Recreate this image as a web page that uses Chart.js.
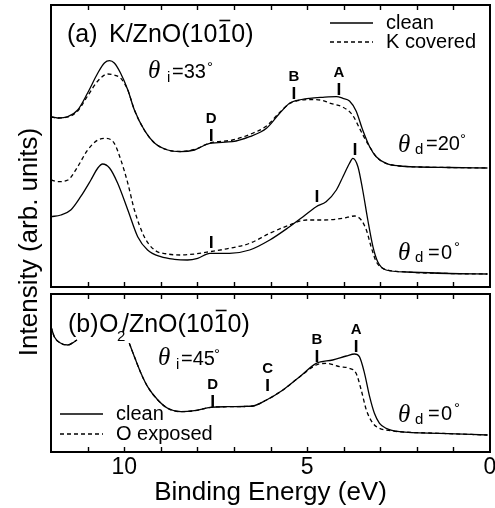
<!DOCTYPE html>
<html><head><meta charset="utf-8">
<script src="https://cdn.jsdelivr.net/npm/chart.js@4.4.1/dist/chart.umd.min.js"></script>
<style>
html,body{margin:0;padding:0;background:#fff;overflow:hidden;width:495px;height:508px}
#wrap{position:relative;width:495px;height:508px;overflow:hidden;background:#fff}
canvas{position:absolute;left:0;top:0}
</style></head><body>
<div id="wrap">
<canvas id="ca" width="500" height="508"></canvas>
<canvas id="cb" width="500" height="508"></canvas>
</div>
<script>
// ---------- data (binding energy in eV, intensity in arb. units) ----------
// Panel (a) K/ZnO, theta_d = 20 deg
const a20CleanE = [12.00,11.82,11.54,11.27,11.00,10.72,10.54,10.40,10.27,10.10,9.90,9.72,9.45,9.17,8.81,8.46,8.08,7.66,7.04,6.57,6.11,5.75,5.48,5.30,4.93,4.57,4.20,4.02,3.84,3.66,3.48,3.29,3.11,2.84,2.47,1.93,1.11,0.07];
const a20CleanI = [170.3,169,170.3,177,194,214,224,226.3,224,214,197,177,157,144,137,135.3,137,143.7,145.3,150.3,158.7,173.7,183.7,186.3,188.7,189.7,190.3,188.7,186,176,157,140.3,130.3,123.7,121,120,119.5,119];
const a20KE = [12.00,11.82,11.54,11.27,11.00,10.72,10.45,10.27,10.10,10.00,9.90,9.72,9.45,9.17,8.81,8.46,8.08,7.66,7.04,6.57,6.11,5.75,5.48,5.30,4.93,4.57,4.39,4.03,3.76,3.57,3.43,3.29,3.11,2.84,2.47,1.93,1.11,0.07];
const a20KI = [170,169,170,176,191,206,213,212,209,204,197,177,157,144,137,135.5,137.5,144,147,152.5,161,174.5,183.5,186,187.5,186.5,184,180,172,159,149,140.3,130.3,123.7,121,120,119.5,119];
// Panel (a) K/ZnO, theta_d = 0 deg
const a0CleanE = [12.00,11.73,11.46,11.19,10.91,10.72,10.59,10.40,10.18,9.90,9.63,9.36,9.00,8.63,8.27,7.99,7.66,7.12,6.57,6.02,5.48,5.11,4.75,4.48,4.20,4.02,3.84,3.75,3.61,3.48,3.34,3.20,3.07,2.84,2.28,1.11,0.07];
const a0CleanI = [70.3,72,77,90.3,107,119,123,119,104,77,50.3,37,30.3,27.7,27,28.7,33.7,33.7,37,47,60.3,70.3,80.3,85.3,97,110.3,123.7,128.7,120.3,97,67,40.3,25.3,17,15,13.5,13];
const a0KE = [12.00,11.82,11.54,11.27,11.00,10.72,10.50,10.27,10.09,9.90,9.72,9.45,9.17,8.81,8.45,8.08,7.66,7.12,6.57,6.02,5.48,5.02,4.57,4.02,3.70,3.52,3.38,3.25,3.11,2.93,2.84,2.28,1.11,0.07];
const a0KI = [107,105.3,107,120.3,137,147,148.7,143.7,127,103.7,77,50.3,37,33,32,33,35.3,38.7,43.7,53.7,62,67,67,68.7,71,67,57,40.3,25.3,18.7,17.3,15,13.5,13];
// Panel (b) O2/ZnO, theta_d = 0 deg (null = hidden behind the panel label)
const bCleanE = [12.00,11.91,11.73,11.54,11.36,11.29,10.60,9.86,9.72,9.54,9.36,9.08,8.81,8.45,8.08,7.63,7.17,6.72,6.48,6.11,5.66,5.20,4.75,4.30,3.93,3.70,3.57,3.43,3.29,3.16,3.02,2.84,2.47,1.38,0.07];
const bCleanI = [125.3,115.3,108.7,107,110.3,112,null,108.7,95.3,78.7,65.3,52,43.7,40.3,41.3,44.7,45.3,45.5,46,52,62,75.3,88.7,92,96,98,95.3,78.7,55.3,38.7,28.7,23.7,20.3,18.7,17];
const bOE = [12.00,11.91,11.73,11.54,11.36,11.29,10.60,9.86,9.72,9.54,9.36,9.08,8.81,8.45,8.08,7.63,7.17,6.72,6.48,6.11,5.66,5.20,4.75,4.48,4.11,3.84,3.66,3.52,3.38,3.20,3.02,2.84,2.47,1.38,0.07];
const bOI = [125.3,115.3,108.7,107,110.3,112,null,108.7,95.3,78.7,65.3,52,43.7,40.3,41.3,44.7,45.3,45.5,46,52,62,75.3,87,88.7,85.3,83.7,78.7,62,42,28.7,23.7,22,20.3,18.7,17];

// axis ticks
const xTickLabels = [0, 5, 10];
const xMinorTicks = [1,2,3,4,5,6,7,8,9,10,11];

// feature markers: energy, tick-top intensity, label
const markE_A = [7.62, 5.36, 4.13, 3.69, 4.73, 7.62];
const markI_A = [158, 200, 204, 144, 97, 51];
const markL_A = ['D', 'B', 'A', '', '', ''];
const markE_B = [7.58, 6.08, 4.73, 3.66];
const markI_B = [57, 73, 102, 112];
const markL_B = ['D', 'C', 'B', 'A'];

// ---------- helpers ----------
Chart.defaults.font.family = '"Liberation Sans", Arial, Helvetica, sans-serif';
Chart.defaults.color = '#000';
const SANS = '"Liberation Sans", Arial, sans-serif';
const SERIF = '"Liberation Serif", "DejaVu Serif", serif';

function pts(E, I) { return E.map((e, i) => ({x: e, y: I[i]})); }
function line(data, dash) {
  return {data, borderColor: '#000', borderWidth: 1.3, pointRadius: 0, tension: 0.4,
          cubicInterpolationMode: 'monotone',
          fill: false, spanGaps: false, borderDash: dash ? [4, 3] : []};
}
function txt(ctx, s, x, y, font, align, base) {
  ctx.font = font; ctx.textAlign = align || 'left'; ctx.textBaseline = base || 'alphabetic';
  ctx.fillStyle = '#000'; ctx.fillText(s, x, y);
}
// Miller-index label with a bar over the third digit, e.g. (1 0 1̄ 0)
function millerLabel(ctx, s, x, y, font) {
  txt(ctx, s, x, y, font);
  const pre = s.slice(0, s.indexOf('(', 1) + 3);
  const x0 = x + ctx.measureText(pre).width;
  const w = ctx.measureText('1').width;
  ctx.save();
  ctx.strokeStyle = '#000'; ctx.lineWidth = 1.6;
  ctx.beginPath(); ctx.moveTo(x0 + 2, y - 21.5); ctx.lineTo(x0 + w - 1, y - 21.5); ctx.stroke();
  ctx.restore();
}
function frameAndTicks(chart) {
  const {ctx, chartArea: {left, top, right, bottom}, scales: {x}} = chart;
  ctx.save();
  ctx.strokeStyle = '#000';
  ctx.lineWidth = 2;
  ctx.strokeRect(left, top, right - left, bottom - top);
  ctx.lineWidth = 1.4;
  xMinorTicks.forEach(v => {
    const px = Math.round(x.getPixelForValue(v)) + 0.5;
    ctx.beginPath();
    ctx.moveTo(px, top); ctx.lineTo(px, top + 5);
    ctx.moveTo(px, bottom); ctx.lineTo(px, bottom - 5);
    ctx.stroke();
  });
  ctx.restore();
}
function marks(chart, E, I, L) {
  const {ctx, scales: {x, y}} = chart;
  ctx.save();
  ctx.strokeStyle = '#000'; ctx.lineWidth = 2.5;
  E.forEach((e, i) => {
    const px = x.getPixelForValue(e), py = y.getPixelForValue(I[i]);
    ctx.beginPath(); ctx.moveTo(px, py); ctx.lineTo(px, py + 12); ctx.stroke();
    if (L[i]) txt(ctx, L[i], px, py - 10, 'bold 15px ' + SANS, 'center', 'middle');
  });
  ctx.restore();
}
function theta(ctx, x, y, sub, eq, deg) {
  txt(ctx, 'θ', x, y, 'italic 25px ' + SERIF);
  txt(ctx, sub.s, x + sub.dx, y + sub.dy, '15px ' + SANS);
  eq.forEach(p => txt(ctx, p.s, x + p.dx, y + p.dy, '20px ' + SANS));
  txt(ctx, '°', x + deg.dx, y + deg.dy, '15px ' + SANS);
}
function legendRow(ctx, x1, x2, y, dash, label) {
  ctx.save();
  ctx.strokeStyle = '#000'; ctx.lineWidth = 1.3;
  ctx.setLineDash(dash ? [4, 3] : []);
  ctx.beginPath(); ctx.moveTo(x1, y); ctx.lineTo(x2, y); ctx.stroke();
  ctx.restore();
  txt(ctx, label, x2 + 13, y, '20px ' + SANS, 'left', 'middle');
}

const xScaleHidden = {type: 'linear', min: 0, max: 12, reverse: true, display: false};

// ---------- panel (a) ----------
new Chart(document.getElementById('ca'), {
  type: 'line',
  data: {datasets: [
    line(pts(a20CleanE, a20CleanI), false),
    line(pts(a20KE, a20KI), true),
    line(pts(a0CleanE, a0CleanI), false),
    line(pts(a0KE, a0KI), true)
  ]},
  options: {
    responsive: false, animation: false, events: [],
    layout: {padding: {left: 51, top: 5, right: 10, bottom: 221}},
    plugins: {legend: {display: false}, tooltip: {enabled: false}},
    scales: {x: xScaleHidden, y: {type: 'linear', min: 0, max: 282, display: false}}
  },
  plugins: [{
    id: 'panelA',
    afterDatasetsDraw(chart) {
      const ctx = chart.ctx;
      frameAndTicks(chart);
      marks(chart, markE_A, markI_A, markL_A);
      txt(ctx, '(a)', 67, 42, '25px ' + SANS);
      millerLabel(ctx, 'K/ZnO(1010)', 109, 42, '25px ' + SANS);
      theta(ctx, 148, 78, {s: 'i', dx: 19, dy: 4}, [{s: '=33', dx: 24, dy: 0}], {dx: 59, dy: -6});
      theta(ctx, 398, 152, {s: 'd', dx: 17, dy: 2}, [{s: '=20', dx: 28, dy: -2}], {dx: 62, dy: -8});
      theta(ctx, 398, 260, {s: 'd', dx: 17, dy: 2}, [{s: '=', dx: 30, dy: -1}, {s: '0', dx: 43, dy: -1}], {dx: 56, dy: -8});
      legendRow(ctx, 330, 373, 23, false, 'clean');
      legendRow(ctx, 330, 373, 42, true, 'K covered');
    }
  }]
});

// ---------- panel (b) ----------
new Chart(document.getElementById('cb'), {
  type: 'line',
  data: {datasets: [
    line(pts(bCleanE, bCleanI), false),
    line(pts(bOE, bOI), true)
  ]},
  options: {
    responsive: false, animation: false, events: [],
    layout: {padding: {left: 51, top: 294, right: 10, bottom: 0}},
    plugins: {legend: {display: false}, tooltip: {enabled: false}},
    scales: {
      x: {type: 'linear', min: 0, max: 12, reverse: true,
          afterBuildTicks: s => { s.ticks = xTickLabels.map(v => ({value: v})); },
          afterFit: s => { s.height = 56; },
          grid: {display: false, drawTicks: false}, border: {display: false},
          ticks: {font: {size: 23, lineHeight: 1.0}, padding: 4, color: '#000', autoSkip: false, maxRotation: 0},
          title: {display: true, text: 'Binding Energy (eV)', font: {size: 26, lineHeight: 0.77},
                  padding: {top: 0, bottom: 5}, color: '#000'}},
      y: {type: 'linear', min: 0, max: 158, display: false}
    }
  },
  plugins: [{
    id: 'panelB',
    afterDatasetsDraw(chart) {
      const ctx = chart.ctx;
      frameAndTicks(chart);
      marks(chart, markE_B, markI_B, markL_B);
      txt(ctx, '(b)', 68, 332, '25px ' + SANS);
      txt(ctx, 'O', 99, 332, '25px ' + SANS);
      txt(ctx, '2', 117, 341, '15px ' + SANS);
      millerLabel(ctx, '/ZnO(1010)', 122, 332, '25px ' + SANS);
      theta(ctx, 158, 365, {s: 'i', dx: 18, dy: 4}, [{s: '=45', dx: 23, dy: 0}], {dx: 56, dy: -6});
      theta(ctx, 398, 422, {s: 'd', dx: 17, dy: 2}, [{s: '=', dx: 30, dy: -2}, {s: '0', dx: 43, dy: -2}], {dx: 56, dy: -9});
      legendRow(ctx, 60, 103, 414, false, 'clean');
      legendRow(ctx, 60, 103, 434, true, 'O exposed');
      // shared y-axis title
      ctx.save();
      ctx.translate(37, 242);
      ctx.rotate(-Math.PI / 2);
      txt(ctx, 'Intensity (arb. units)', 0, 0, '26px ' + SANS, 'center', 'alphabetic');
      ctx.restore();
    }
  }]
});
</script>
</body></html>
